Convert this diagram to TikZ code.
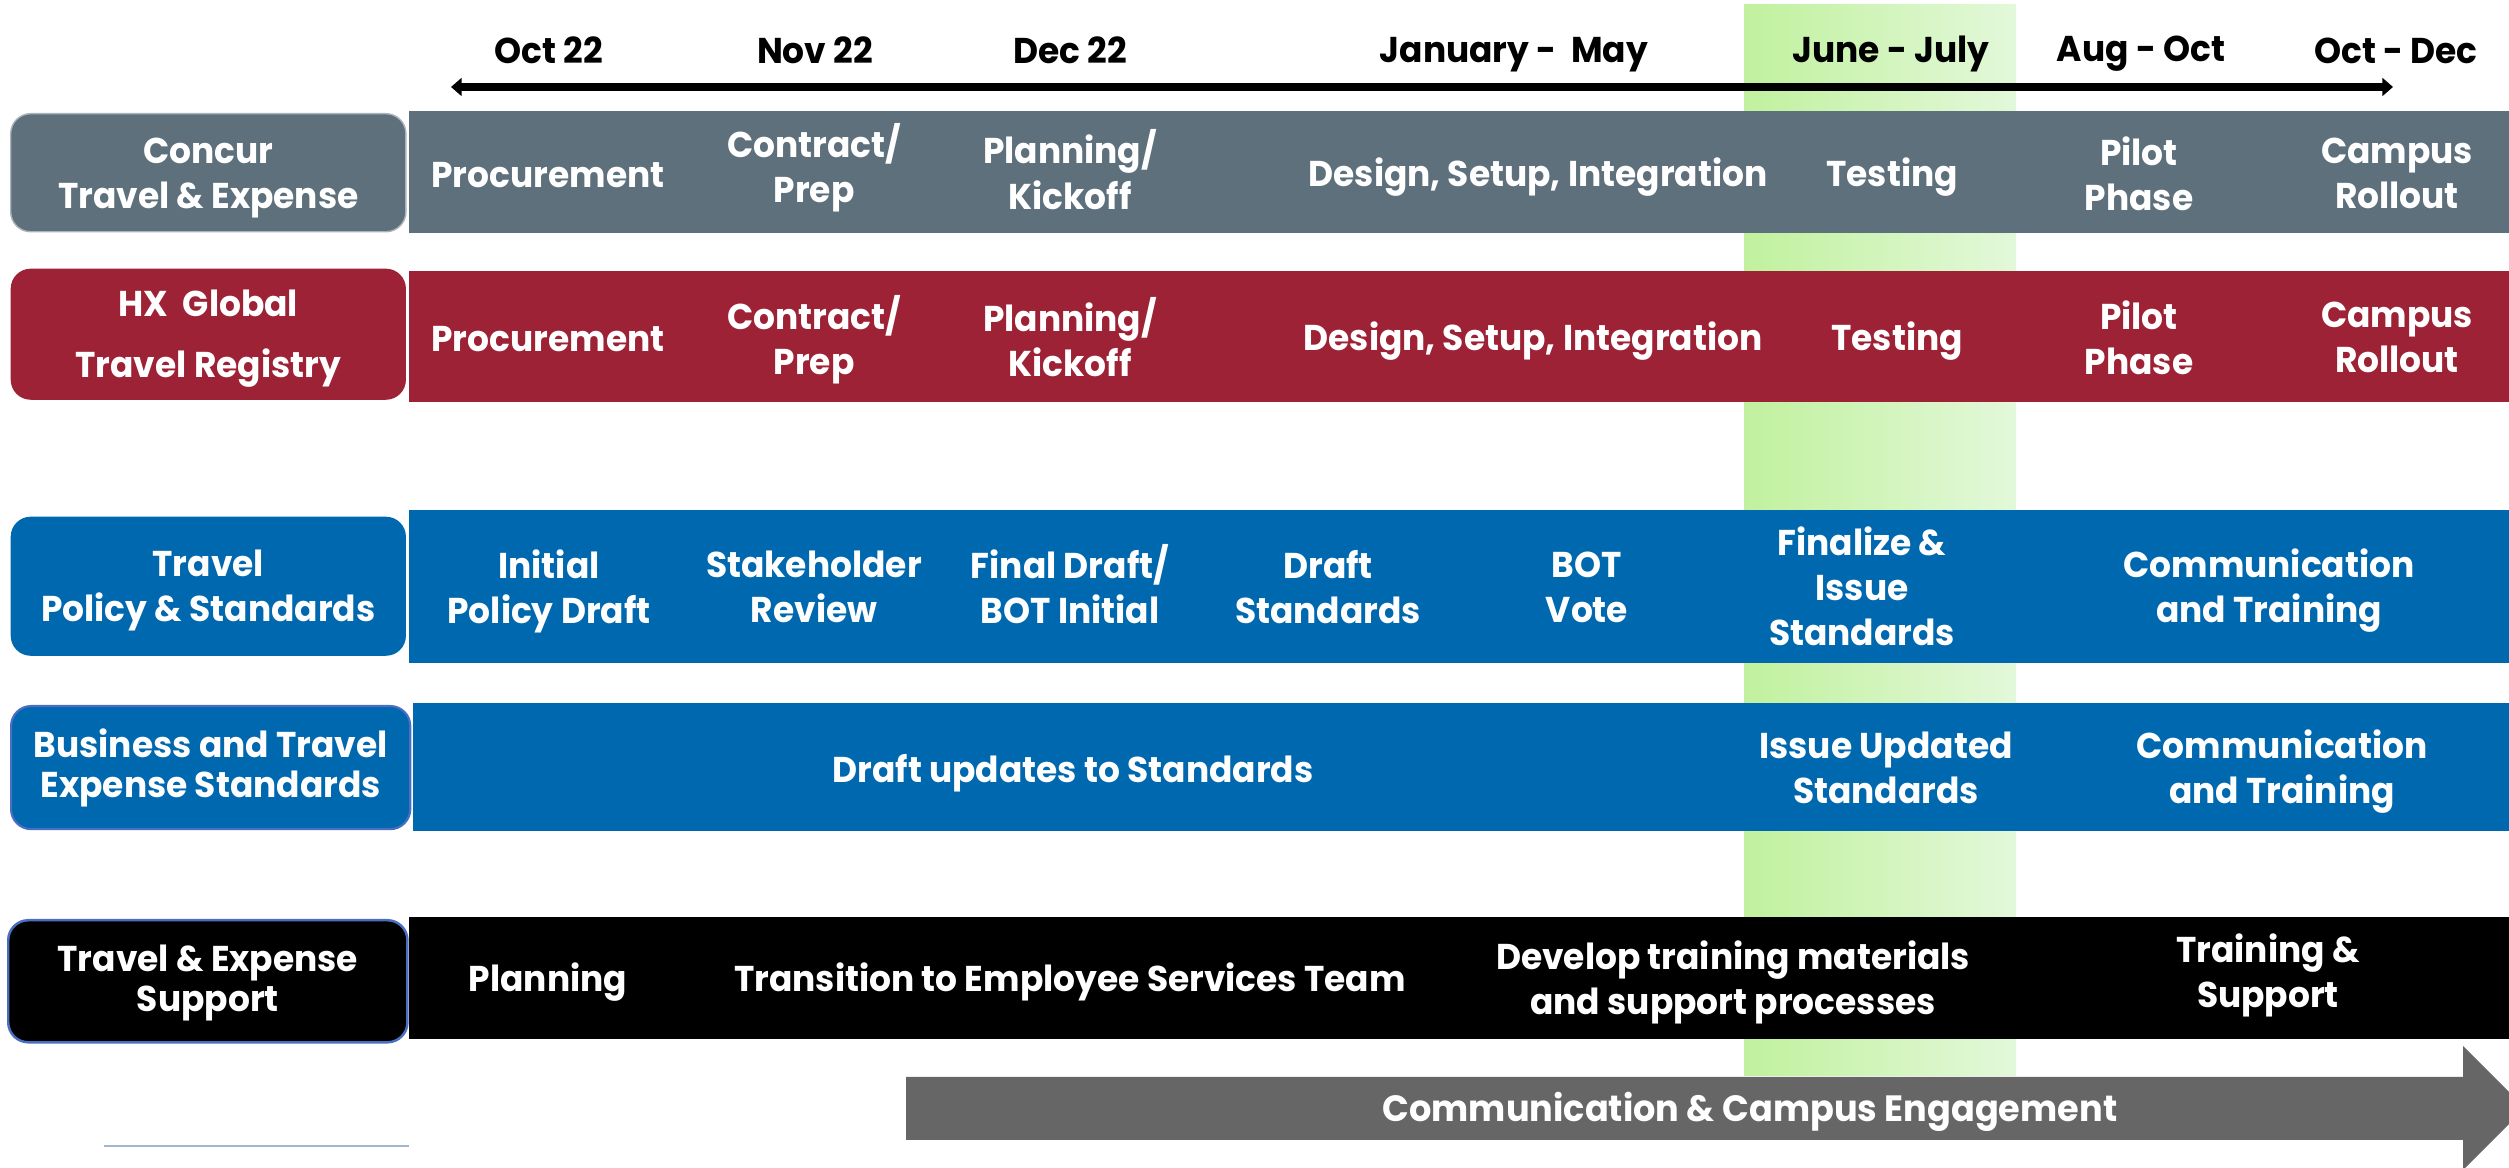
\documentclass[tikz,border=0pt]{standalone}
\usepackage{fontspec}
\setmainfont{Poppins}[FakeStretch=0.96]
\usetikzlibrary{arrows.meta}

\definecolor{concurgrey}{HTML}{5D707C}
\definecolor{concuredge}{HTML}{A9B3BA}
\definecolor{hxred}{HTML}{9E2235}
\definecolor{policyblue}{HTML}{0068AF}
\definecolor{headedge}{HTML}{4A6FC2}
\definecolor{engagegrey}{HTML}{666666}
\definecolor{junegreen}{HTML}{C1F19E}
\definecolor{junelight}{HTML}{E3F8DA}
\definecolor{ruleblue}{HTML}{A3B6CB}

\begin{document}
\begin{tikzpicture}[
    x=0.01cm, y=-0.01cm,
    font=\bfseries\fontsize{10.2}{12.8}\selectfont,
    % invisible rules so that descenders do not move the text centre
    struts/.style={
        execute at begin node={\rule{0pt}{#1}},
        execute at end node={\rule[-2pt]{0pt}{2pt}}
    },
    struts/.default=9.6pt,
    headbox/.style={
        anchor=north west,
        rounded corners=0.2cm,
        inner sep=0pt,
        minimum width=3.95cm
    },
    headtext/.style={
        struts,
        align=center,
        text=white,
        inner sep=0pt
    },
    phase/.style={
        struts=10.8pt,
        text=white,
        align=center,
        inner sep=0pt
    },
    month/.style={
        struts,
        align=center,
        inner sep=0pt
    },
    timeline/.style={
        line width=2.3pt,
        {Triangle[length=3pt,width=5pt]}-{Triangle[length=3pt,width=5pt]}
    }
]

\useasboundingbox (0,0) rectangle (2509,1168);
\clip (0,0) rectangle (2509,1168);

% Highlighted June - July column
\shade[left color=junegreen, right color=junelight] (1744,5) rectangle (2016,1076);

% Month headings and timeline
\node[month] (oct) at (549,50) {Oct 22};
\node[month] (nov) at (815,50) {Nov 22};
\node[month] (dec) at (1070,50) {Dec 22};
\node[month] (janmay) at (1514,50) {January -\ \ May};
\node[month] (junjul) at (1891,50) {June - July};
\node[month] (augoct) at (2141,50) {Aug - Oct};
\node[month] (octdec) at (2396,50) {Oct - Dec};

\coordinate (tl-start) at (451,87);
\coordinate (tl-end) at (2393,87);
\draw[timeline] (tl-start) -- (tl-end);

% Row bars
\fill[concurgrey] (409,111) rectangle (2520,233);
\fill[hxred] (409,271) rectangle (2520,402);
\fill[policyblue] (409,510) rectangle (2520,663);
\fill[policyblue] (413,703) rectangle (2520,831);
\fill[black] (409,917) rectangle (2520,1039);

% Row headings
\node[headbox, fill=concurgrey, draw=concuredge, minimum height=1.18cm]
    (concurbox) at (10,113) {};
\node[headtext] (concurhead) at ([yshift=-1.6pt]concurbox.center)
    {Concur\\Travel \& Expense};

\node[headbox, fill=hxred, minimum height=1.31cm] (hxbox) at (10,268) {};
\node[headtext] (hxhead) at ([yshift=-1.3pt]hxbox.center)
    {HX\ \ Global\\[4.6pt]Travel Registry};

\node[headbox, fill=policyblue, minimum height=1.39cm] (policybox) at (10,516) {};
\node[headtext] (policyhead) at ([yshift=-1.3pt]policybox.center)
    {Travel\\Policy \& Standards};

\node[headbox, fill=policyblue, draw=headedge, line width=0.6pt,
    minimum width=3.99cm, minimum height=1.23cm] (businessbox) at (10,705) {};
\node[headtext] (businesshead) at (businessbox.center)
    {Business and Travel\\[-1.4pt]Expense Standards};

\node[headbox, fill=black, draw=headedge, line width=0.7pt,
    minimum width=3.99cm, minimum height=1.22cm] (supportbox) at (7,919) {};
\node[headtext] (supporthead) at ([yshift=-0.5pt]supportbox.center)
    {Travel \& Expense\\[-1.4pt]Support};

% Concur Travel & Expense
\node[phase] (c-proc) at (548,172) {Procurement};
\node[phase] (c-contract) at (814,168) {Contract/\\Prep};
\node[phase] (c-plan) at (1070,173) {Planning/\\Kickoff};
\node[phase] (c-design) at (1538,172) {Design, Setup, Integration};
\node[phase] (c-test) at (1892,172) {Testing};
\node[phase] (c-pilot) at (2139,177) {Pilot\\Phase};
\node[phase] (c-rollout) at (2397,177) {Campus\\Rollout};

% HX Global Travel Registry
\node[phase] (hx-proc) at (548,336) {Procurement};
\node[phase] (hx-contract) at (814,340) {Contract/\\Prep};
\node[phase] (hx-plan) at (1070,340) {Planning/\\Kickoff};
\node[phase] (hx-design) at (1533,336) {Design, Setup, Integration};
\node[phase] (hx-test) at (1897,336) {Testing};
\node[phase] (hx-pilot) at (2139,341) {Pilot\\Phase};
\node[phase] (hx-rollout) at (2397,341) {Campus\\Rollout};

% Travel policy
\node[phase] (p-initial) at (549,591) {Initial\\Policy Draft};
\node[phase] (p-review) at (814,590) {Stakeholder\\Review};
\node[phase] (p-final) at (1070,587) {Final Draft/\\BOT Initial};
\node[phase] (p-draft) at (1328,590) {Draft\\Standards};
\node[phase] (p-vote) at (1587,591) {BOT\\Vote};
\node[phase] (p-issue) at (1862,590) {Finalize \&\\Issue\\Standards};
\node[phase] (p-comm) at (2269,591) {Communication\\and Training};

% Business and travel expense standards
\node[phase] (b-draft) at (1073,768) {Draft updates to Standards};
\node[phase] (b-issue) at (1886,771) {Issue Updated\\Standards};
\node[phase] (b-comm) at (2282,772) {Communication\\and Training};

% Travel & expense support
\node[phase] (s-plan) at (548,977) {Planning};
\node[phase] (s-transition) at (1070,977) {Transition to Employee Services Team};
\node[phase] (s-develop) at (1733,982) {Develop training materials\\and support processes};
\node[phase] (s-train) at (2268,975) {Training \&\\Support};

% Campus engagement arrow
\fill[engagegrey] (906,1077) -- (2463,1077) -- (2463,1046) -- (2525,1108)
    -- (2463,1170) -- (2463,1140) -- (906,1140) -- cycle;
\node[phase, font=\bfseries\fontsize{10.4}{13}\selectfont]
    (engage) at (1750,1108) {Communication \& Campus Engagement};

\coordinate (rule-start) at (104,1146);
\coordinate (rule-end) at (409,1146);
\draw[ruleblue, line width=0.6pt] (rule-start) -- (rule-end);

\end{tikzpicture}
\end{document}
